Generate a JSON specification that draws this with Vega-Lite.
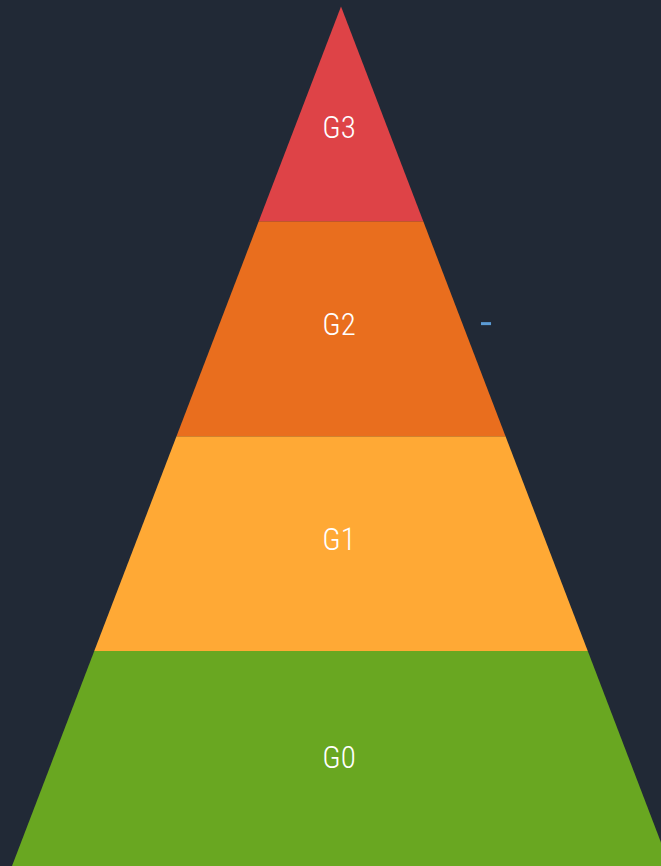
{
  "$schema": "https://vega.github.io/schema/vega-lite/v6.json",
  "width": 661,
  "height": 866,
  "autosize": "none",
  "padding": 0,
  "background": "#212936",
  "config": {"view": {"stroke": null}},
  "datasets": {
    "bands": [
      {"band": "G0", "x": -1, "y": 0, "y2": 0},
      {"band": "G0", "x": -0.75, "y": 0, "y2": 1},
      {"band": "G0", "x": 0.75, "y": 0, "y2": 1},
      {"band": "G0", "x": 1, "y": 0, "y2": 0},
      {"band": "G1", "x": -0.75, "y": 1, "y2": 1},
      {"band": "G1", "x": -0.5, "y": 1, "y2": 2},
      {"band": "G1", "x": 0.5, "y": 1, "y2": 2},
      {"band": "G1", "x": 0.75, "y": 1, "y2": 1},
      {"band": "G2", "x": -0.5, "y": 2, "y2": 2},
      {"band": "G2", "x": -0.25, "y": 2, "y2": 3},
      {"band": "G2", "x": 0.25, "y": 2, "y2": 3},
      {"band": "G2", "x": 0.5, "y": 2, "y2": 2},
      {"band": "G3", "x": -0.25, "y": 3, "y2": 3},
      {"band": "G3", "x": 0, "y": 3, "y2": 4},
      {"band": "G3", "x": 0.25, "y": 3, "y2": 3}
    ],
    "labels": [
      {"band": "G0", "h": 0.497, "x": -0.006},
      {"band": "G1", "h": 1.511, "x": -0.006},
      {"band": "G2", "h": 2.512, "x": -0.006},
      {"band": "G3", "h": 3.429, "x": -0.006}
    ],
    "marker": [
      {"h": 2.524, "x": 0.4255, "x2": 0.456}
    ]
  },
  "resolve": {"scale": {"color": "independent"}},
  "layer": [
    {
      "data": {"name": "bands"},
      "mark": {"type": "area", "clip": true, "interpolate": "linear"},
      "encoding": {
        "x": {"field": "x", "type": "quantitative", "scale": {"domain": [-1.0365, 0.9726], "nice": false, "zero": false}, "axis": null},
        "y": {"field": "y", "type": "quantitative", "stack": null, "scale": {"domain": [0, 4.03], "nice": false, "zero": false}, "axis": null},
        "y2": {"field": "y2"},
        "color": {
          "field": "band",
          "type": "nominal",
          "scale": {"domain": ["G0", "G1", "G2", "G3"], "range": ["#69A721", "#FFA935", "#E96E1E", "#DE4347"]},
          "legend": null
        }
      }
    },
    {
      "data": {"name": "labels"},
      "mark": {"type": "text", "baseline": "middle", "align": "center", "font": "Liberation Sans Narrow, Roboto Condensed, Liberation Sans", "fontSize": 31, "fontWeight": 300, "color": "#ffffff"},
      "encoding": {
        "y": {"field": "h", "type": "quantitative"},
        "x": {"field": "x", "type": "quantitative"},
        "text": {"field": "band"}
      }
    },
    {
      "data": {"name": "marker"},
      "mark": {"type": "rule", "color": "#5B9BD5", "strokeWidth": 3},
      "encoding": {
        "y": {"field": "h", "type": "quantitative"},
        "x": {"field": "x", "type": "quantitative"},
        "x2": {"field": "x2"}
      }
    }
  ]
}
